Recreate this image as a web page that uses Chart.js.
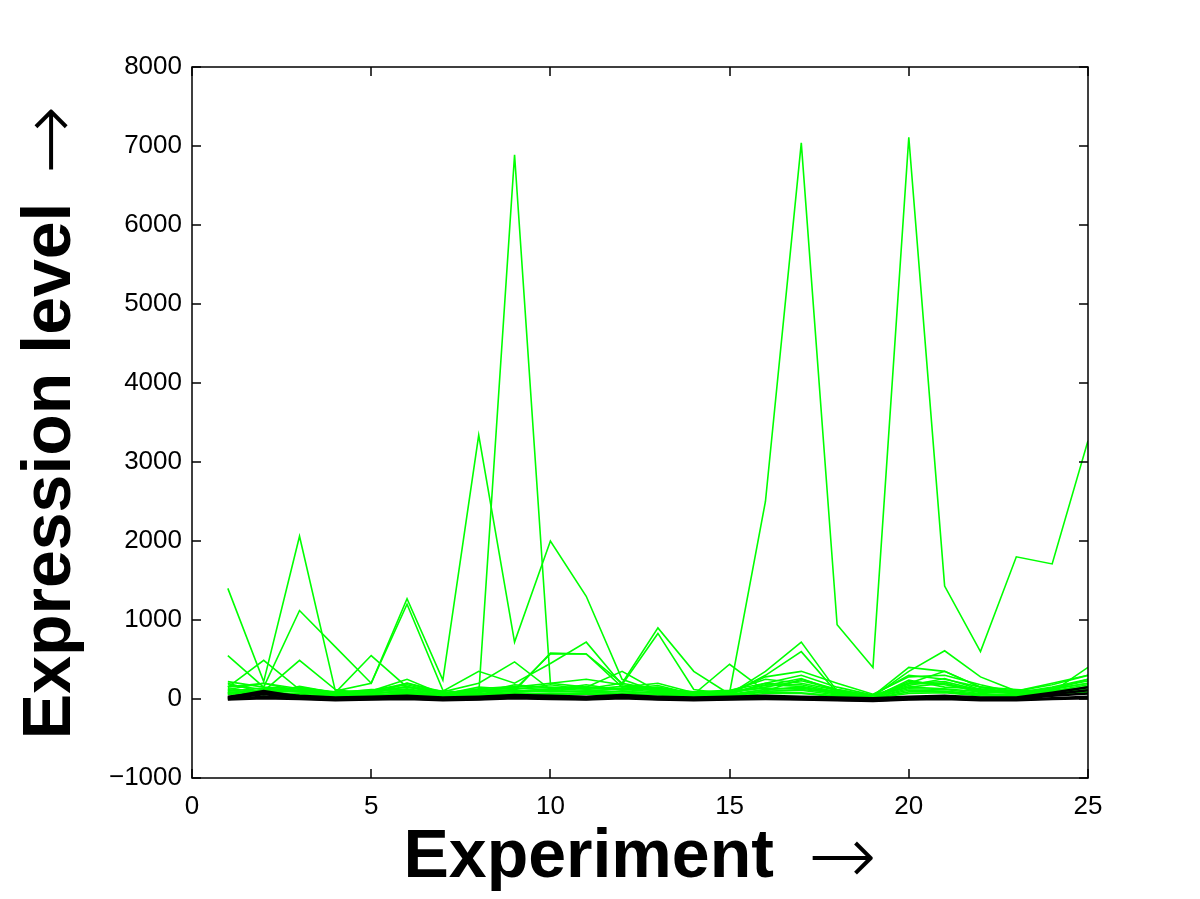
<!DOCTYPE html>
<html>
<head>
<meta charset="utf-8">
<script src="https://cdn.jsdelivr.net/npm/chart.js@4.4.1/dist/chart.umd.min.js"></script>
<style>
  html, body { margin: 0; padding: 0; background: #fff; }
  #wrap { width: 1200px; height: 899px; }
</style>
</head>
<body>
<div id="wrap"><canvas id="chart" width="1200" height="899"></canvas></div>
<script>
// experiment numbers on the x axis
const experiments = [1, 2, 3, 4, 5, 6, 7, 8, 9, 10, 11, 12, 13, 14, 15, 16, 17, 18, 19, 20, 21, 22, 23, 24, 25];
const xTicks = [0, 5, 10, 15, 20, 25];
const yTicks = [-1000, 0, 1000, 2000, 3000, 4000, 5000, 6000, 7000, 8000];
const xTitle = 'Experiment';
const yTitle = 'Expression level';

// green genes (high / mid expression)
const geneA = [60, 120, 90, 60, 80, 100, 50, 60, 6890, 200, 150, 120, 90, 70, 80, 2500, 7040, 940, 400, 7110, 1430, 600, 1800, 1710, 3270];
const geneB = [1400, 220, 2060, 100, 200, 1270, 240, 3340, 720, 2000, 1300, 250, 90, 60, 50, 120, 150, 90, 40, 150, 200, 100, 80, 120, 200];
const geneC = [550, 150, 1120, 660, 200, 1200, 110, 60, 100, 580, 570, 150, 200, 80, 60, 200, 300, 150, 50, 300, 250, 150, 100, 200, 300];
const geneD = [150, 490, 120, 80, 100, 150, 80, 100, 150, 200, 250, 180, 120, 90, 70, 280, 350, 200, 60, 280, 300, 180, 80, 150, 250];
const geneE = [80, 100, 490, 120, 60, 200, 90, 200, 470, 120, 150, 350, 100, 60, 440, 100, 250, 120, 40, 200, 350, 150, 120, 90, 400];
const geneF = [200, 80, 150, 80, 550, 150, 100, 350, 200, 450, 720, 180, 830, 120, 60, 350, 720, 100, 30, 350, 610, 280, 100, 180, 300];
const geneG = [120, 200, 100, 60, 100, 250, 60, 150, 120, 570, 570, 200, 900, 350, 60, 300, 600, 80, 40, 400, 350, 150, 60, 120, 250];

// green genes (low expression)
const low1 = [180, 120, 140, 90, 110, 180, 70, 130, 160, 150, 130, 200, 120, 90, 110, 200, 180, 90, 30, 220, 180, 100, 70, 130, 200];
const low2 = [150, 200, 130, 70, 90, 130, 60, 110, 140, 120, 180, 110, 150, 70, 80, 150, 230, 120, 40, 170, 260, 120, 90, 100, 180];
const low3 = [130, 90, 110, 60, 80, 160, 50, 90, 120, 180, 120, 160, 100, 80, 100, 250, 200, 110, 30, 190, 200, 80, 110, 80, 160];
const low4 = [110, 60, 160, 80, 120, 110, 70, 80, 180, 140, 150, 130, 170, 60, 70, 180, 160, 70, 20, 240, 150, 130, 60, 110, 140];
const low5 = [100, 140, 100, 50, 70, 90, 40, 70, 110, 90, 100, 90, 80, 50, 60, 120, 140, 60, 20, 130, 120, 70, 50, 90, 120];
const low6 = [90, 50, 120, 70, 60, 120, 60, 100, 90, 110, 90, 140, 110, 70, 90, 140, 120, 80, 30, 150, 130, 90, 70, 70, 110];
const low7 = [80, 110, 90, 40, 50, 80, 30, 60, 80, 70, 80, 70, 60, 40, 50, 100, 110, 50, 20, 110, 100, 60, 40, 80, 100];
const low8 = [70, 80, 70, 50, 40, 70, 40, 50, 70, 60, 70, 100, 70, 50, 40, 90, 80, 40, 10, 90, 90, 50, 50, 60, 90];
const low9 = [220, 150, 130, 60, 100, 200, 80, 120, 100, 130, 110, 120, 140, 60, 90, 170, 260, 100, 40, 200, 220, 110, 80, 140, 230];
const low10 = [60, 70, 60, 30, 30, 60, 30, 40, 60, 50, 60, 60, 50, 30, 30, 70, 70, 30, 10, 70, 80, 40, 30, 50, 70];

// black genes (near zero)
const black1 = [20, 100, 30, 10, 20, 30, 10, 20, 40, 30, 20, 40, 20, 10, 20, 30, 20, 10, 0, 20, 30, 10, 10, 60, 110];
const black2 = [10, 60, 20, 0, 10, 20, 0, 10, 30, 20, 10, 30, 10, 0, 10, 20, 10, 0, -10, 10, 20, 0, 0, 40, 70];
const black3 = [0, 30, 10, -10, 0, 10, -10, 0, 20, 10, 0, 20, 0, -10, 0, 10, 0, -10, -20, 0, 10, -10, -10, 10, 30];
const black4 = [30, 80, 40, 20, 30, 40, 20, 30, 50, 40, 30, 50, 30, 20, 30, 40, 30, 20, 10, 30, 40, 20, 20, 80, 150];
const black5 = [-5, 10, 0, -15, -5, 0, -15, -5, 10, 0, -5, 10, -5, -15, -5, 0, -5, -15, -25, -5, 0, -15, -15, 0, 10];

const greenSeries = [geneA, geneB, geneC, geneD, geneE, geneF, geneG,
  low1, low2, low3, low4, low5, low6, low7, low8, low9, low10];
const blackSeries = [black1, black2, black3, black4, black5];

function toPoints(vals) {
  return experiments.map((x, i) => ({ x: x, y: vals[i] }));
}

const datasets = [];
// chart.js draws the first dataset on top, so black goes first
blackSeries.forEach(s => datasets.push({
  data: toPoints(s), borderColor: '#000000', borderWidth: 2.5,
  pointRadius: 0, tension: 0, fill: false
}));
greenSeries.forEach(s => datasets.push({
  data: toPoints(s), borderColor: '#00ff00', borderWidth: 1.6,
  pointRadius: 0, tension: 0, fill: false
}));

const FONT = '"Liberation Sans", Helvetica, Arial, sans-serif';
const TITLE_FONT = 'bold 68px ' + FONT;
const ARROW_FONT = '200 82px "DejaVu Sans", sans-serif';
const ARROW = '\u2192';

// box around the plot and inward tick marks, like matlab
const boxPlugin = {
  id: 'box',
  afterDraw(chart) {
    const { ctx, chartArea: a, scales } = chart;
    const len = 9;
    ctx.save();
    ctx.strokeStyle = '#000';
    ctx.lineWidth = 1.5;
    ctx.strokeRect(a.left, a.top, a.right - a.left, a.bottom - a.top);
    ctx.beginPath();
    xTicks.forEach(t => {
      const px = Math.round(scales.x.getPixelForValue(t));
      ctx.moveTo(px, a.bottom); ctx.lineTo(px, a.bottom - len);
      ctx.moveTo(px, a.top); ctx.lineTo(px, a.top + len);
    });
    yTicks.forEach(t => {
      const py = Math.round(scales.y.getPixelForValue(t));
      ctx.moveTo(a.left, py); ctx.lineTo(a.left + len, py);
      ctx.moveTo(a.right, py); ctx.lineTo(a.right - len, py);
    });
    ctx.stroke();
    ctx.restore();
  }
};

// axis titles: bold word followed by a thin arrow
function drawTitle(ctx, text, cx, baseline, gap, arrowOffset) {
  ctx.font = TITLE_FONT;
  const w = ctx.measureText(text).width;
  ctx.font = ARROW_FONT;
  const aw = ctx.measureText(ARROW).width;
  const x0 = cx - (w + gap + aw) / 2;
  ctx.textBaseline = 'alphabetic';
  ctx.textAlign = 'left';
  ctx.font = TITLE_FONT;
  ctx.fillText(text, x0, baseline);
  ctx.font = ARROW_FONT;
  ctx.fillText(ARROW, x0 + w + gap, baseline + arrowOffset);
}

const titlePlugin = {
  id: 'axisTitles',
  afterDraw(chart) {
    const { ctx, chartArea: a } = chart;
    ctx.save();
    ctx.fillStyle = '#000';
    drawTitle(ctx, xTitle, (a.left + a.right) / 2, 877, 34, 7);
    ctx.translate(70, (a.top + a.bottom) / 2);
    ctx.rotate(-Math.PI / 2);
    drawTitle(ctx, yTitle, 0, 0, 28, 7);
    ctx.restore();
  }
};

new Chart(document.getElementById('chart'), {
  type: 'line',
  data: { datasets },
  plugins: [boxPlugin, titlePlugin],
  options: {
    responsive: false,
    animation: false,
    layout: { padding: { top: 67, right: 112, left: 0, bottom: 0 } },
    plugins: { legend: { display: false }, tooltip: { enabled: false } },
    scales: {
      x: {
        type: 'linear', min: 0, max: 25,
        afterBuildTicks: s => { s.ticks = xTicks.map(v => ({ value: v })); },
        afterFit: s => { s.height = 121; },
        grid: { drawOnChartArea: false, drawTicks: false },
        border: { display: false },
        ticks: { color: '#000', padding: 13, font: { family: FONT, size: 26 } }
      },
      y: {
        min: -1000, max: 8000,
        afterBuildTicks: s => { s.ticks = yTicks.map(v => ({ value: v })); },
        afterFit: s => { s.width = 192; },
        grid: { drawOnChartArea: false, drawTicks: false },
        border: { display: false },
        ticks: {
          color: '#000', padding: 10, font: { family: FONT, size: 26 },
          callback: v => v < 0 ? '\u2212' + Math.abs(v) : String(v)
        }
      }
    }
  }
});
</script>
</body>
</html>
